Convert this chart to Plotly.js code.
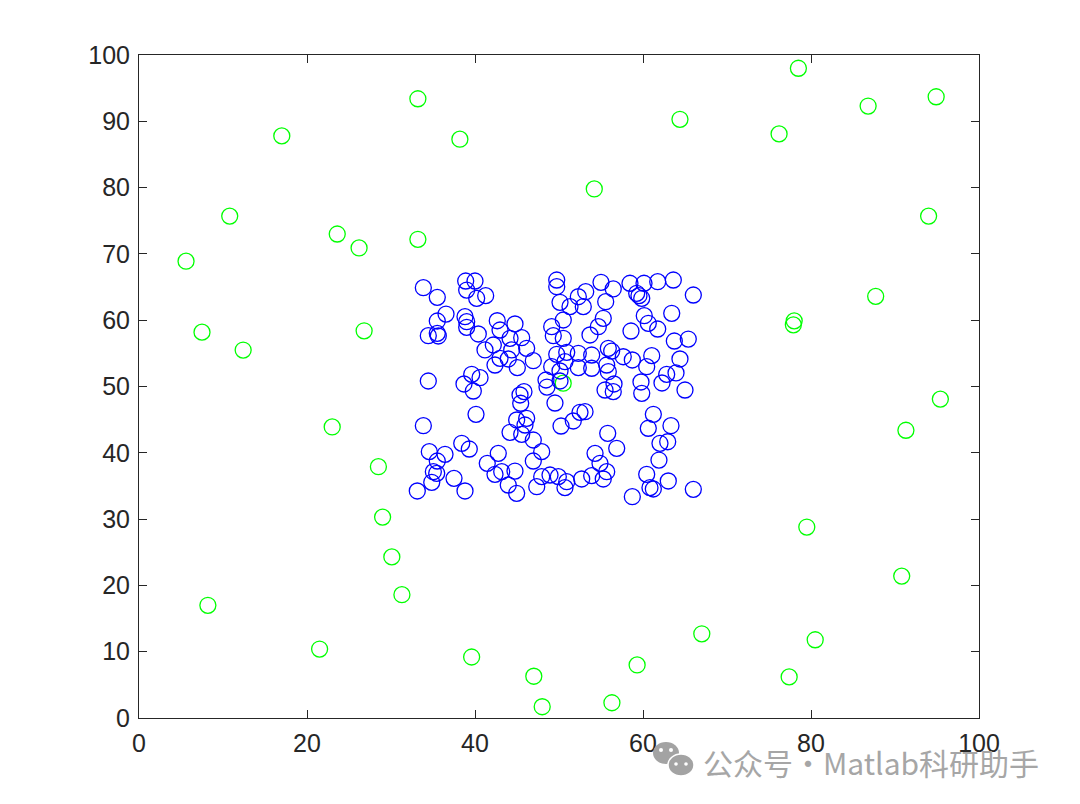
<!DOCTYPE html>
<html>
<head>
<meta charset="utf-8">
<script src="https://cdn.plot.ly/plotly-3.0.1.min.js"></script>
<style>html,body{margin:0;padding:0;background:#fff;}#chart{width:1080px;height:804px;}</style>
</head>
<body>
<div id="chart"></div>
<script>
// Outer (green) points
const greenX = [5.6,7.5,10.8,12.4,17.0,8.2,21.5,23.6,26.2,26.8,23.0,28.5,29.0,30.1,31.3,33.2,33.2,38.2,39.6,47.0,48.0,54.2,56.3,59.3,64.4,67.0,76.2,78.5,77.4,80.5,79.5,77.9,78.0,86.8,87.7,94.9,94.0,95.4,91.3,90.8,50.5];
const greenY = [68.9,58.2,75.7,55.5,87.8,17.0,10.4,73.0,70.9,58.4,43.9,37.9,30.3,24.3,18.6,93.4,72.2,87.3,9.2,6.3,1.7,79.8,2.3,8.0,90.3,12.7,88.1,98.0,6.2,11.8,28.8,59.3,59.9,92.3,63.6,93.7,75.7,48.1,43.4,21.4,50.5];

// Inner (blue) points
const blueX = [33.85,35.51,38.89,40.00,39.01,40.20,41.27,36.55,35.51,38.81,39.01,39.01,34.44,35.51,35.63,40.39,42.65,44.76,42.98,44.17,45.56,42.18,41.19,44.37,46.15,42.98,43.96,42.38,46.94,45.04,34.44,39.61,40.60,38.69,48.45,48.57,
49.73,49.73,55.00,56.46,58.45,60.12,61.75,63.61,65.99,53.18,52.30,50.12,51.31,52.89,55.56,59.25,59.52,59.85,60.15,60.63,61.75,63.42,58.57,55.27,54.68,53.69,50.51,49.13,49.32,50.51,63.73,65.39,49.73,50.92,52.30,53.89,55.87,56.27,57.65,58.73,61.04,64.40,50.71,52.30,53.89,55.68,55.87,60.44,62.82,63.93,49.13,50.12,59.76,62.26,56.55,55.48,56.46,59.85,65.00,50.12,
39.80,40.12,33.85,45.36,45.83,45.44,44.96,46.15,45.95,44.17,45.56,46.94,47.94,46.94,34.56,36.43,35.51,38.42,39.32,42.77,41.46,35.04,35.44,34.85,37.50,33.13,38.81,42.38,43.18,44.76,43.96,44.96,47.35,47.94,48.93,49.52,50.24,
53.10,52.50,51.70,61.23,60.63,63.33,55.80,62.02,62.94,56.87,54.29,54.88,61.90,55.68,49.92,50.92,50.71,52.70,53.89,55.27,60.44,60.83,61.23,63.01,65.99,58.73];
const blueY = [64.90,63.45,65.91,65.91,64.55,63.30,63.70,60.93,59.88,60.53,59.77,58.93,57.66,58.02,57.62,57.92,59.92,59.43,58.52,57.27,57.36,56.26,55.51,55.51,55.76,54.25,54.15,53.24,53.89,52.84,50.83,51.84,51.33,50.38,50.98,49.92,
66.06,65.05,65.72,64.71,65.57,65.57,65.81,66.06,63.80,64.30,63.54,62.70,62.04,62.04,62.79,64.06,63.70,63.30,60.68,59.53,58.67,61.04,58.37,60.29,59.02,57.77,60.03,59.02,57.66,57.27,56.86,57.16,54.86,55.16,55.01,54.75,55.76,55.35,54.49,54.00,54.65,54.15,53.74,52.84,52.75,53.24,52.23,52.99,51.84,52.04,52.99,52.34,50.68,50.53,50.38,49.47,49.22,48.97,49.47,50.83,
49.32,45.81,44.09,48.72,49.22,47.47,44.95,45.20,44.19,43.09,42.79,41.93,40.17,38.76,40.17,39.77,38.76,41.43,40.57,39.92,38.42,37.15,36.91,35.55,36.15,34.24,34.24,36.76,37.15,37.25,35.14,33.89,34.89,36.40,36.65,47.51,44.04,
46.20,46.11,44.80,45.81,43.70,44.09,42.94,41.43,41.67,40.68,39.92,38.42,38.91,37.15,36.40,35.64,34.74,36.05,36.55,36.05,36.76,34.74,34.54,35.75,34.49,33.38];

const xTicks = [0,20,40,60,80,100];
const yTicks = [0,10,20,30,40,50,60,70,80,90,100];

const traces = [
  {x: greenX, y: greenY, type: 'scatter', mode: 'markers',
   marker: {symbol: 'circle-open', size: 16, color: '#00ff00', line: {width: 1.3, color: '#00ff00'}}, hoverinfo: 'x+y'},
  {x: blueX, y: blueY, type: 'scatter', mode: 'markers',
   marker: {symbol: 'circle-open', size: 16, color: '#0000ff', line: {width: 1.3, color: '#0000ff'}}, hoverinfo: 'x+y'}
];

const axisCommon = {
  showgrid: false, zeroline: false, showline: true, linecolor: '#262626', linewidth: 1,
  mirror: 'ticks', ticks: 'inside', ticklen: 8, tickcolor: '#262626', tickwidth: 1,
  ticklabelstandoff: 3,
  tickfont: {family: 'Liberation Sans, Arial, sans-serif', size: 25, color: '#262626'}
};

// watermark icon (decoration), pixel-based ellipses anchored in paper coords
const L = 139, T = 55, W = 840, H = 663;
function blob(cx, cy, rx, ry, fill, line) {
  return {type: 'circle', xref: 'paper', yref: 'paper', xsizemode: 'pixel', ysizemode: 'pixel',
    xanchor: (cx - L) / W, yanchor: (T + H - cy) / H, x0: -rx, x1: rx, y0: -ry, y1: ry,
    fillcolor: fill, line: {color: line || fill, width: line ? 1.5 : 0}, layer: 'above'};
}
const shapes = [
  blob(666, 753, 13, 11, '#a3a3a3'),
  blob(681, 765, 13, 11, '#a3a3a3', '#ffffff'),
  blob(661, 750, 2, 2, '#ffffff'),
  blob(671, 750, 2, 2, '#ffffff'),
  blob(676, 764, 1.8, 1.8, '#ffffff'),
  blob(686, 764, 1.8, 1.8, '#ffffff')
];

const layout = {
  width: 1080, height: 804,
  margin: {l: 139, r: 101, t: 55, b: 86},
  paper_bgcolor: '#ffffff', plot_bgcolor: '#ffffff',
  showlegend: false,
  xaxis: Object.assign({}, axisCommon, {range: [0, 100], tickvals: xTicks, ticktext: xTicks.map(String)}),
  yaxis: Object.assign({}, axisCommon, {range: [0, 100], tickvals: yTicks, ticktext: yTicks.map(String)}),
  shapes: shapes,
  annotations: [{
    xref: 'paper', yref: 'paper', x: (701 - L) / W, y: (T + H - 762) / H, xanchor: 'left', yanchor: 'middle',
    text: '公众号・Matlab科研助手', showarrow: false,
    font: {family: 'Noto Sans CJK SC, sans-serif', size: 30, color: '#a6a6a6'}
  }]
};

Plotly.newPlot('chart', traces, layout, {displayModeBar: false, staticPlot: true});
</script>
</body>
</html>
